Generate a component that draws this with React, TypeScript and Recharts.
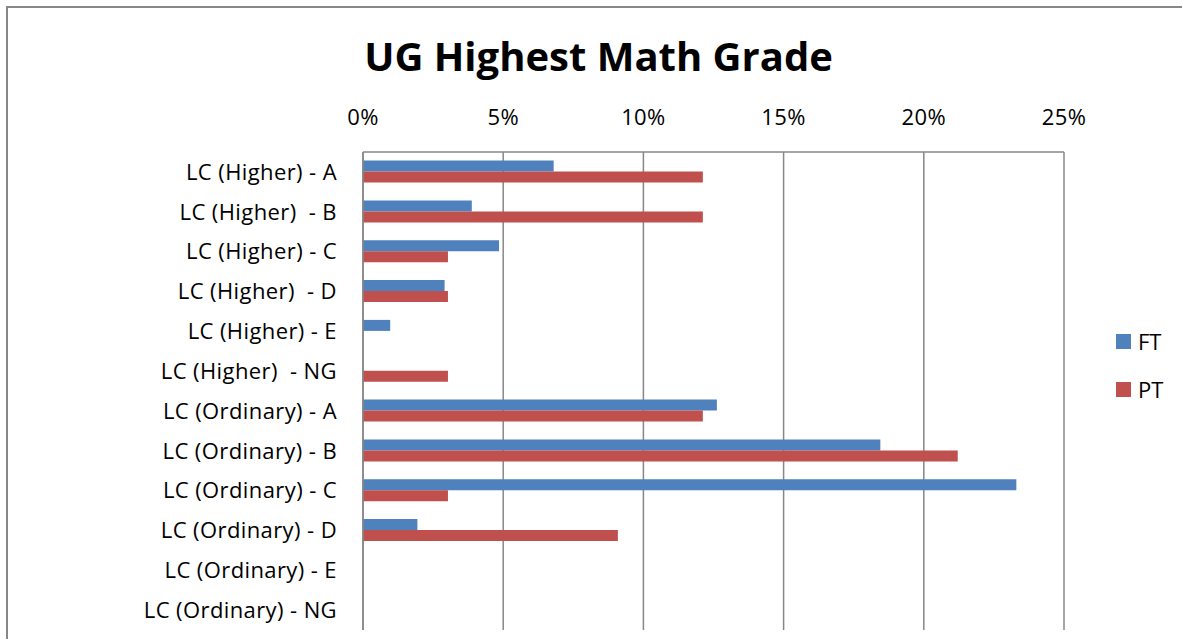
import React from "react";
import { Bar, BarChart, CartesianGrid, XAxis, YAxis } from "recharts";

// \u00a0 keeps the doubled spaces that appear in some source labels
const grades = [
  "LC (Higher) - A",
  "LC (Higher)\u00a0 - B",
  "LC (Higher) - C",
  "LC (Higher)\u00a0 - D",
  "LC (Higher) - E",
  "LC (Higher)\u00a0 - NG",
  "LC (Ordinary) - A",
  "LC (Ordinary) - B",
  "LC (Ordinary) - C",
  "LC (Ordinary) - D",
  "LC (Ordinary) - E",
  "LC (Ordinary) - NG",
];

const ftShare = [0.068, 0.0388, 0.0485, 0.0291, 0.0097, 0, 0.1262, 0.1845, 0.233, 0.0194, 0, 0];
const ptShare = [0.1212, 0.1212, 0.0303, 0.0303, 0, 0.0303, 0.1212, 0.2121, 0.0303, 0.0909, 0, 0];

const xTicks = [0, 0.05, 0.1, 0.15, 0.2, 0.25];

const FT_COLOR = "#4f81bd";
const PT_COLOR = "#c0504d";
const LINE_COLOR = "#878787";
const FONT = "'Open Sans', Lato, sans-serif";

const chartData = grades.map((grade, i) => ({
  grade,
  FT: ftShare[i],
  PT: ptShare[i],
}));

const legendItems = [
  { name: "FT", color: FT_COLOR },
  { name: "PT", color: PT_COLOR },
];

const tickStyle = { fill: "#000", fontSize: 22, fontFamily: FONT, letterSpacing: 0.4 };

export default function App() {
  return (
    <div style={{ position: "relative", width: 1182, height: 639, overflow: "hidden", fontFamily: FONT }}>
      <style>{`body { margin: 0; overflow: hidden; }`}</style>
      <div
        style={{
          position: "absolute",
          left: 6,
          top: 6,
          width: 1176,
          height: 633,
          borderTop: `2px solid ${LINE_COLOR}`,
          borderLeft: `2px solid ${LINE_COLOR}`,
          boxSizing: "border-box",
        }}
      />
      <div
        style={{
          position: "absolute",
          left: 0,
          width: 1197,
          top: 36,
          textAlign: "center",
          fontSize: 40,
          lineHeight: "40px",
          fontWeight: 700,
          color: "#000",
        }}
      >
        UG Highest Math Grade
      </div>
      <div style={{ position: "absolute", left: 0, top: 0 }}>
        <BarChart
          width={1182}
          height={639}
          data={chartData}
          layout="vertical"
          margin={{ top: 112, right: 118, bottom: 9, left: 0 }}
          barCategoryGap="21.5%"
          barGap={0}
        >
          <CartesianGrid horizontal={false} stroke={LINE_COLOR} strokeWidth={1.5} />
          <XAxis
            type="number"
            orientation="top"
            domain={[0, 0.25]}
            ticks={xTicks}
            tickFormatter={(v: number) => `${Math.round(v * 100)}%`}
            height={40}
            tickLine={false}
            tickSize={0}
            tickMargin={27}
            axisLine={{ stroke: LINE_COLOR, strokeWidth: 1.5 }}
            tick={tickStyle}
            interval={0}
          />
          <YAxis
            type="category"
            dataKey="grade"
            width={363}
            tickLine={false}
            tickSize={0}
            tickMargin={26}
            axisLine={{ stroke: LINE_COLOR, strokeWidth: 1.5 }}
            tick={tickStyle}
            interval={0}
          />
          <Bar dataKey="FT" fill={FT_COLOR} isAnimationActive={false} />
          <Bar dataKey="PT" fill={PT_COLOR} isAnimationActive={false} />
        </BarChart>
      </div>
      {legendItems.map((item, i) => (
        <div
          key={item.name}
          style={{
            position: "absolute",
            left: 1116,
            top: 328 + i * 48,
            height: 26,
            display: "flex",
            alignItems: "center",
            fontSize: 22,
          }}
        >
          <span style={{ display: "inline-block", width: 15, height: 15, background: item.color, marginRight: 7 }} />
          <span>{item.name}</span>
        </div>
      ))}
    </div>
  );
}
